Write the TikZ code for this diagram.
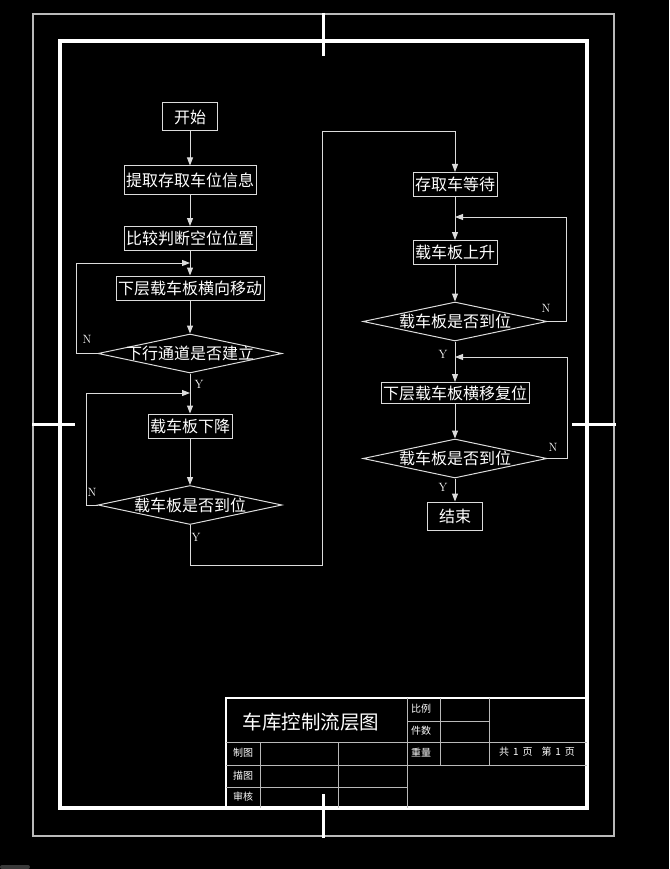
\documentclass[tikz,border=0pt]{standalone}
\usepackage{fontspec}
\newfontfamily\cjk{Noto Sans CJK SC}
\usepackage{xcolor}
\usetikzlibrary{arrows.meta,shapes.geometric,positioning,calc}
\definecolor{linegray}{RGB}{220,220,220}
\definecolor{framegray}{RGB}{185,185,185}

\begin{document}
\begin{tikzpicture}[x=1pt,y=-1pt,
  box/.style={draw=linegray, line width=1pt, text=white,
    font=\cjk\fontsize{16}{18}\selectfont, inner xsep=2pt, inner ysep=0pt,
    minimum height=24pt},
  term/.style={box, minimum width=55pt, minimum height=28pt},
  decision/.style={diamond, draw=linegray, line width=1pt, text=white,
    font=\cjk\fontsize{16}{18}\selectfont, inner sep=0pt,
    minimum width=184pt, minimum height=39pt},
  flow/.style={draw=linegray, line width=1pt, -{Triangle[length=8pt,width=6pt]}},
  yn/.style={text=white, font=\fontsize{12}{13}\selectfont, inner sep=0pt},
  cell/.style={text=white, font=\cjk\fontsize{10}{11}\selectfont, inner sep=0pt},
  grid/.style={draw=framegray, line width=1pt}]
  % Background and drawing frame
  \fill[black] (0,0) rectangle (669,869);
  \fill[gray!45!black, rounded corners=2pt] (0,865) rectangle (30,869);
  \draw[framegray, line width=1.3pt] (33,14) rectangle (614,836);
  \draw[white, line width=3.5pt] (60,41) rectangle (587,808);
  \draw[white, line width=3pt] (323,13) -- (323,56);
  \draw[white, line width=3pt] (323,794) -- (323,838);
  \draw[white, line width=3pt] (32,424) -- (75,424);
  \draw[white, line width=3pt] (572,424) -- (616,424);

  % Title block
  \draw[white, line width=2.5pt] (226,808) -- (226,698) -- (587,698);
  \draw[grid] (226,742) -- (587,742);
  \draw[grid] (226,765) -- (587,765);
  \draw[grid] (226,787) -- (407,787);
  \draw[grid] (407,698) -- (407,808);
  \draw[grid] (260,742) -- (260,808);
  \draw[grid] (338,742) -- (338,808);
  \draw[grid] (440,698) -- (440,765);
  \draw[grid] (489,698) -- (489,765);
  \draw[grid] (407,721) -- (489,721);
  \node[cell, font=\cjk\fontsize{19.5}{21}\selectfont] (title) at (311,722) {车库控制流层图};
  \node[cell] (scale) at (421,709) {比例};
  \node[cell] (count) at (421,731) {件数};
  \node[cell] (weight) at (421,753) {重量};
  \node[cell] (drawn) at (243,753) {制图};
  \node[cell] (traced) at (243,776) {描图};
  \node[cell] (checked) at (243,797) {审核};
  \node[cell] (pages) at (537,752) {共\,~1~\,页\hspace{9pt}第\,~1~\,页};

  % Left column
  \node[term] (start) at (190,117) {开始};
  \node[box, minimum height=28pt] (fetch) at (190,180) {提取存取车位信息};
  \node[box] (cmp) at (190,238.5) {比较判断空位位置};
  \node[box] (move) at (190,288) {下层载车板横向移动};
  \node[decision] (chk1) at (190,353.5) {\makebox[0pt]{下行通道是否建立}};
  \node[box] (down) at (190,426) {载车板下降};
  \node[decision] (chk2) at (190,505) {\makebox[0pt]{载车板是否到位}};
  \coordinate (j1) at (190,263);
  \coordinate (j2) at (190,393);
  \coordinate (turnA) at (322,565);
  \coordinate (turnB) at (322,132);

  % Right column
  \node[box] (wait) at (455,184.5) {存取车等待};
  \node[box] (up) at (455,252.5) {载车板上升};
  \node[decision] (chk3) at (455,321.5) {\makebox[0pt]{载车板是否到位}};
  \node[box, minimum height=21pt] (back) at (455,393) {下层载车板横移复位};
  \node[decision] (chk4) at (455,458.5) {\makebox[0pt]{载车板是否到位}};
  \node[term] (stop) at (455,516) {结束};
  \coordinate (j3) at (455,217);
  \coordinate (j4) at (455,357);

  % Connectors
  \draw[flow] (start) -- (fetch);
  \draw[flow] (fetch) -- (cmp);
  \draw[flow] (cmp) -- (move);
  \draw[flow] (move) -- (chk1);
  \draw[flow] (chk1) -- (down);
  \draw[flow] (down) -- (chk2);
  \draw[flow] (chk1.west) -- ++(-21,0) |- (j1);
  \draw[flow] (chk2.west) -- ++(-11,0) |- (j2);
  \draw[flow] (chk2.south) |- (turnA) -- (turnB) -| (wait.north);
  \draw[flow] (wait) -- (up);
  \draw[flow] (up) -- (chk3);
  \draw[flow] (chk3) -- (back);
  \draw[flow] (back) -- (chk4);
  \draw[flow] (chk4) -- (stop);
  \draw[flow] (chk3.east) -- ++(19,0) |- (j3);
  \draw[flow] (chk4.east) -- ++(20,0) |- (j4);

  % Y / N marks
  \node[yn] (n1) at (87,339) {N};
  \node[yn] (y1) at (199,384) {Y};
  \node[yn] (n2) at (92,492) {N};
  \node[yn] (y2) at (196,537) {Y};
  \node[yn] (n3) at (546,308) {N};
  \node[yn] (y3) at (443,354) {Y};
  \node[yn] (n4) at (553,447) {N};
  \node[yn] (y4) at (443,487) {Y};
\end{tikzpicture}
\end{document}
